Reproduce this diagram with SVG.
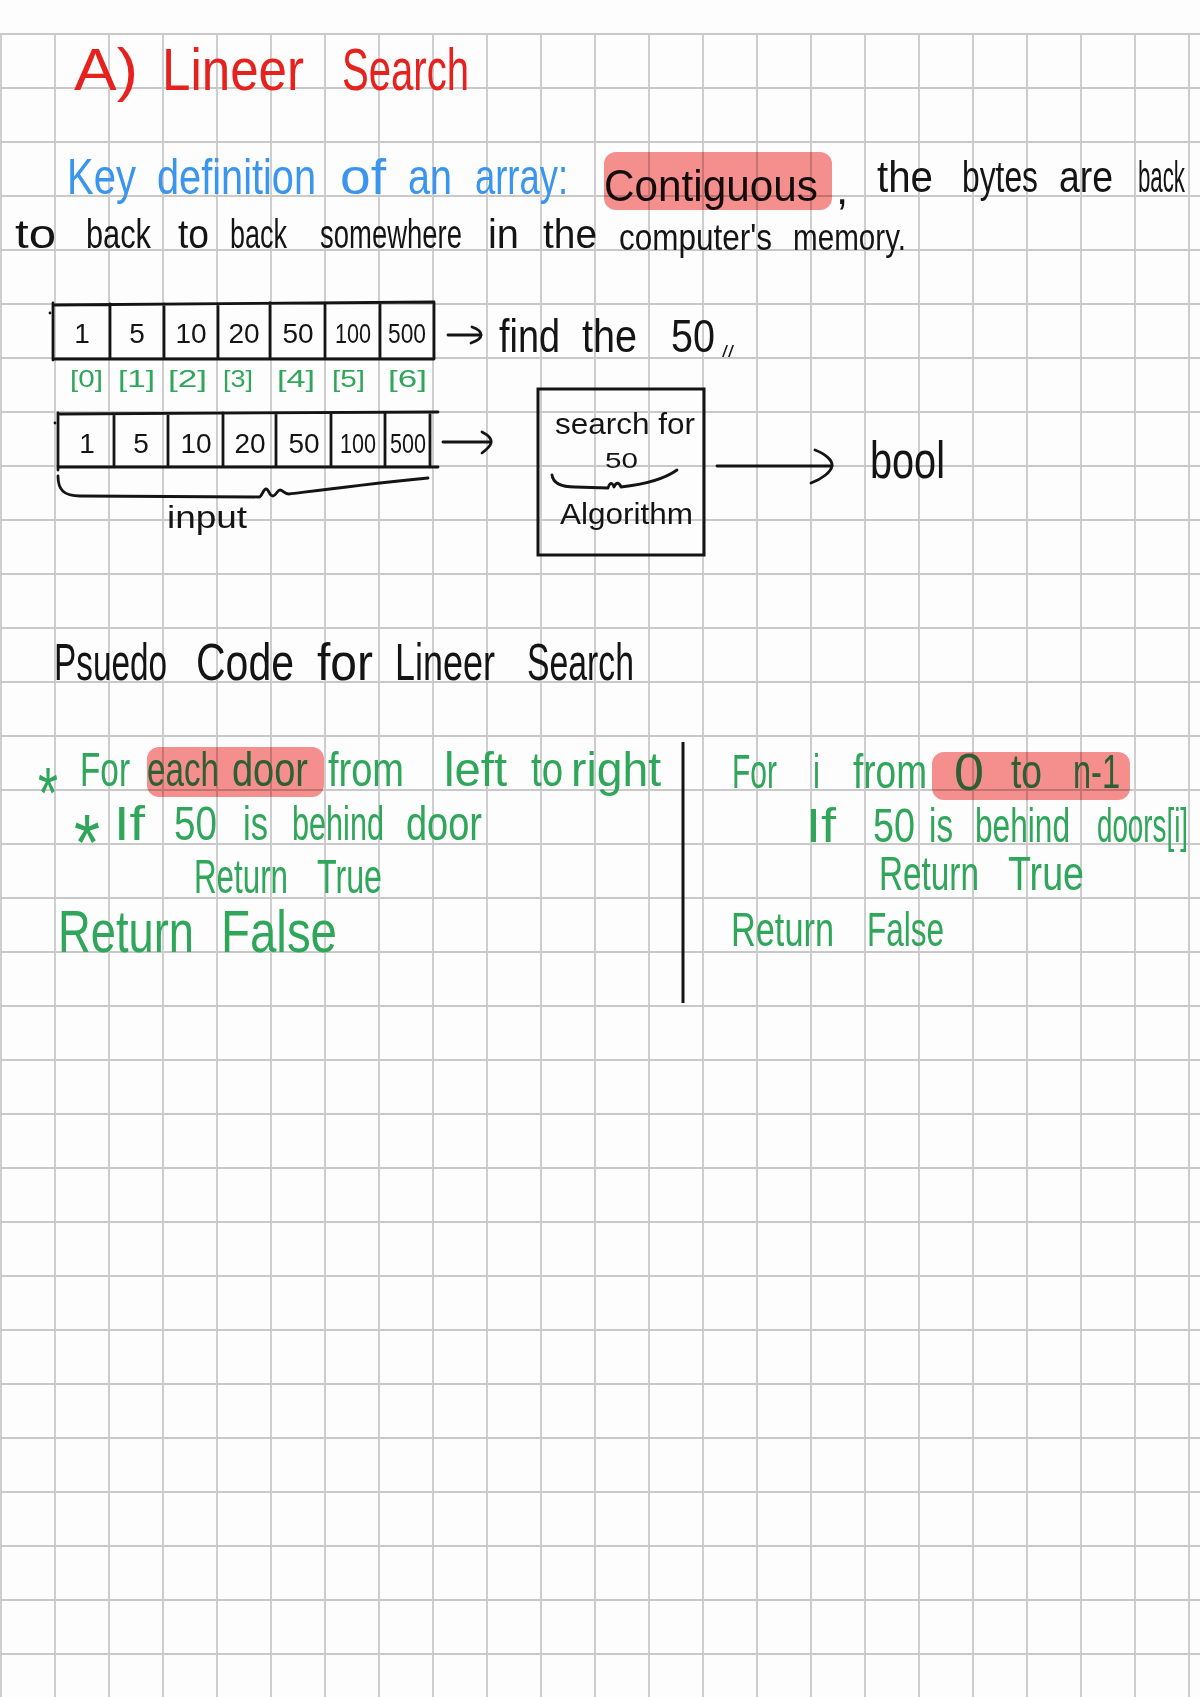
<svg xmlns="http://www.w3.org/2000/svg" width="1200" height="1697" viewBox="0 0 1200 1697">
  <defs>
    <style>
      text{font-family:"Liberation Sans",Arial,sans-serif}
      .red{fill:#e6221e;font-size:60px}
      .blue{fill:#3a95ee;font-size:50px}
      .ink{fill:#141414}
      .grn{fill:#2fa65a}
      .hl{fill:#f6908f;mix-blend-mode:multiply}
      .pen{fill:none;stroke:#141414;stroke-width:2.8;stroke-linecap:round;stroke-linejoin:round}
      .num{font-size:28px;text-anchor:middle}
      .idx{font-size:24px}
      .code{font-size:48px}
    </style>
    <pattern id="paper" patternUnits="userSpaceOnUse" x="-26" y="7" width="54" height="54">
      <path d="M0,27 H54 M27,0 V54" stroke="#c9c9c9" stroke-width="1.8" fill="none"/>
    </pattern>
    <marker id="hook-s" markerUnits="userSpaceOnUse" orient="auto" overflow="visible" refX="0" refY="0" markerWidth="1" markerHeight="1">
      <path class="pen" stroke-width="2.4" d="M-9,-8 C-3,-6 0,-3 0,0 C0,3 -4,6 -10,8"/>
    </marker>
    <marker id="hook-m" markerUnits="userSpaceOnUse" orient="auto" overflow="visible" refX="0" refY="0" markerWidth="1" markerHeight="1">
      <path class="pen" stroke-width="2.6" d="M-9,-10 C-3,-7 1,-3 0,1 C-1,5 -5,8 -9,11"/>
    </marker>
    <marker id="hook-l" markerUnits="userSpaceOnUse" orient="auto" overflow="visible" refX="0" refY="0" markerWidth="1" markerHeight="1">
      <path class="pen" stroke-width="2.8" d="M-17,-16 C-6,-12 1,-5 0,0 C-1,6 -10,13 -21,17"/>
    </marker>
  </defs>

  <!-- paper with square grid -->
  <rect width="1200" height="1697" fill="#fdfdfd"/>
  <rect x="0" y="33" width="1200" height="1664" fill="url(#paper)"/>

  <!-- heading -->
  <g id="title" class="red">
    <text x="74" y="90" textLength="64" lengthAdjust="spacingAndGlyphs">A)</text>
    <text x="162" y="90" textLength="142" lengthAdjust="spacingAndGlyphs">Lineer</text>
    <text x="342" y="90" textLength="127" lengthAdjust="spacingAndGlyphs">Search</text>
  </g>

  <!-- definition sentence -->
  <g id="definition">
    <g class="blue">
      <text x="67" y="194" textLength="69" lengthAdjust="spacingAndGlyphs">Key</text>
      <text x="157" y="194" textLength="159" lengthAdjust="spacingAndGlyphs">definition</text>
      <text x="340" y="194" textLength="46" lengthAdjust="spacingAndGlyphs">of</text>
      <text x="408" y="194" textLength="44" lengthAdjust="spacingAndGlyphs">an</text>
      <text x="475" y="194" textLength="93" lengthAdjust="spacingAndGlyphs">array:</text>
    </g>
    <g class="ink">
      <text x="604" y="201" font-size="44" textLength="214" lengthAdjust="spacingAndGlyphs">Contiguous</text>
      <text x="836" y="204" font-size="44">,</text>
      <g font-size="44">
        <text x="877" y="192" textLength="56" lengthAdjust="spacingAndGlyphs">the</text>
        <text x="962" y="192" textLength="76" lengthAdjust="spacingAndGlyphs">bytes</text>
        <text x="1059" y="192" textLength="54" lengthAdjust="spacingAndGlyphs">are</text>
        <text x="1138" y="192" textLength="47" lengthAdjust="spacingAndGlyphs">back</text>
      </g>
      <g font-size="40">
        <text x="15" y="248" textLength="41" lengthAdjust="spacingAndGlyphs">to</text>
        <text x="86" y="248" textLength="65" lengthAdjust="spacingAndGlyphs">back</text>
        <text x="178" y="248" textLength="31" lengthAdjust="spacingAndGlyphs">to</text>
        <text x="230" y="248" textLength="57" lengthAdjust="spacingAndGlyphs">back</text>
        <text x="320" y="248" textLength="142" lengthAdjust="spacingAndGlyphs">somewhere</text>
        <text x="488" y="248" textLength="31" lengthAdjust="spacingAndGlyphs">in</text>
        <text x="543" y="248" textLength="54" lengthAdjust="spacingAndGlyphs">the</text>
      </g>
      <g font-size="36">
        <text x="619" y="250" textLength="153" lengthAdjust="spacingAndGlyphs">computer's</text>
        <text x="793" y="250" textLength="113" lengthAdjust="spacingAndGlyphs">memory.</text>
      </g>
    </g>
    <rect class="hl" x="604" y="152" width="228" height="58" rx="12"/>
  </g>

  <!-- array with its values -->
  <g id="array-1">
    <path class="pen" d="M53,305 L434,302 M53,359 H434 M53,303 V360 M434,302 V359 M110,304 V359 M164,304 V359 M218,304 V359 M270,303 V359 M325,303 V359 M380,303 V359"/>
    <circle cx="50" cy="313" r="1.4" fill="#141414"/>
    <g class="ink num">
      <text x="82" y="343">1</text>
      <text x="137" y="343">5</text>
      <text x="191" y="343">10</text>
      <text x="244" y="343">20</text>
      <text x="298" y="343">50</text>
      <text x="353" y="343" textLength="36" lengthAdjust="spacingAndGlyphs">100</text>
      <text x="407" y="343" textLength="38" lengthAdjust="spacingAndGlyphs">500</text>
    </g>
  </g>

  <!-- index labels -->
  <g id="indices" class="grn idx">
    <text x="70" y="387" textLength="33" lengthAdjust="spacingAndGlyphs">[0]</text>
    <text x="118" y="387" textLength="37" lengthAdjust="spacingAndGlyphs">[1]</text>
    <text x="168" y="387" textLength="39" lengthAdjust="spacingAndGlyphs">[2]</text>
    <text x="223" y="387" textLength="30" lengthAdjust="spacingAndGlyphs">[3]</text>
    <text x="277" y="387" textLength="38" lengthAdjust="spacingAndGlyphs">[4]</text>
    <text x="332" y="387" textLength="33" lengthAdjust="spacingAndGlyphs">[5]</text>
    <text x="388" y="387" textLength="39" lengthAdjust="spacingAndGlyphs">[6]</text>
  </g>

  <!-- task label -->
  <g id="find-label" class="ink" font-size="46">
    <text x="499" y="352" textLength="61" lengthAdjust="spacingAndGlyphs">find</text>
    <text x="582" y="352" textLength="55" lengthAdjust="spacingAndGlyphs">the</text>
    <text x="671" y="352" textLength="44" lengthAdjust="spacingAndGlyphs">50</text>
    <text x="722" y="357" font-size="16" textLength="12" lengthAdjust="spacingAndGlyphs">//</text>
  </g>

  <!-- input array -->
  <g id="array-2">
    <path class="pen" d="M60,414 L438,412 M58,467 H438 M58,413 V470 M430,413 V467 M114,414 V467 M168,414 V467 M223,413 V467 M276,413 V467 M331,413 V467 M385,413 V467"/>
    <circle cx="55" cy="423" r="1.4" fill="#141414"/>
    <g class="ink num">
      <text x="87" y="453">1</text>
      <text x="141" y="453">5</text>
      <text x="196" y="453">10</text>
      <text x="250" y="453">20</text>
      <text x="304" y="453">50</text>
      <text x="358" y="453" textLength="36" lengthAdjust="spacingAndGlyphs">100</text>
      <text x="408" y="453" textLength="36" lengthAdjust="spacingAndGlyphs">500</text>
    </g>
  </g>

  <!-- brace labelled input -->
  <g id="input-brace">
    <path class="pen" d="M58,476 C58,490 64,496 80,496 L259,497 C262,497 263,489 266,489 C269,489 269,496 273,496 C276,496 277,490 280,490 C283,490 284,494 289,494 C300,493 330,488 428,478"/>
    <text class="ink" x="167" y="528" font-size="32" textLength="80" lengthAdjust="spacingAndGlyphs">input</text>
  </g>

  <!-- algorithm box -->
  <g id="search-box">
    <rect x="538" y="389" width="166" height="166" fill="none" stroke="#141414" stroke-width="3"/>
    <text class="ink" x="555" y="434" font-size="30" textLength="140" lengthAdjust="spacingAndGlyphs">search for</text>
    <text class="ink" x="605" y="468" font-size="22" textLength="33" lengthAdjust="spacingAndGlyphs">50</text>
    <path class="pen" stroke-width="2.4" d="M552,475 C553,483 560,487 575,487 L608,488 C610,482 612,482 614,487 C616,482 619,482 621,487 C630,486 660,482 677,470"/>
    <text class="ink" x="560" y="524" font-size="30" textLength="133" lengthAdjust="spacingAndGlyphs">Algorithm</text>
  </g>

  <!-- result -->
  <g id="bool-node">
    <text class="ink" x="870" y="478" font-size="52" textLength="75" lengthAdjust="spacingAndGlyphs">bool</text>
  </g>

  <!-- arrows -->
  <g id="connectors">
    <path class="pen" stroke-width="2.4" d="M448,335 H481" marker-end="url(#hook-s)"/>
    <path class="pen" stroke-width="2.6" d="M443,442 H491" marker-end="url(#hook-m)"/>
    <path class="pen" d="M717,466 H832" marker-end="url(#hook-l)"/>
  </g>

  <!-- pseudo code heading -->
  <g id="pseudo-title" class="ink" font-size="52">
    <text x="54" y="680" textLength="113" lengthAdjust="spacingAndGlyphs">Psuedo</text>
    <text x="196" y="680" textLength="98" lengthAdjust="spacingAndGlyphs">Code</text>
    <text x="317" y="680" textLength="56" lengthAdjust="spacingAndGlyphs">for</text>
    <text x="395" y="680" textLength="100" lengthAdjust="spacingAndGlyphs">Lineer</text>
    <text x="527" y="680" textLength="107" lengthAdjust="spacingAndGlyphs">Search</text>
  </g>

  <!-- plain-language version -->
  <g id="pseudo-left" class="grn code">
    <text x="38" y="818" font-size="72" textLength="20" lengthAdjust="spacingAndGlyphs">*</text>
    <text x="80" y="786" textLength="50" lengthAdjust="spacingAndGlyphs">For</text>
    <text x="147" y="786" textLength="72" lengthAdjust="spacingAndGlyphs">each</text>
    <text x="232" y="786" textLength="76" lengthAdjust="spacingAndGlyphs">door</text>
    <text x="328" y="786" textLength="76" lengthAdjust="spacingAndGlyphs">from</text>
    <text x="444" y="786" textLength="63" lengthAdjust="spacingAndGlyphs">left</text>
    <text x="531" y="786" textLength="32" lengthAdjust="spacingAndGlyphs">to</text>
    <text x="571" y="786" textLength="90" lengthAdjust="spacingAndGlyphs">right</text>

    <text x="74" y="870" font-size="80" textLength="26" lengthAdjust="spacingAndGlyphs">*</text>
    <text x="114" y="840" textLength="31" lengthAdjust="spacingAndGlyphs">If</text>
    <text x="174" y="840" textLength="43" lengthAdjust="spacingAndGlyphs">50</text>
    <text x="243" y="840" textLength="25" lengthAdjust="spacingAndGlyphs">is</text>
    <text x="292" y="840" textLength="92" lengthAdjust="spacingAndGlyphs">behind</text>
    <text x="406" y="840" textLength="76" lengthAdjust="spacingAndGlyphs">door</text>

    <text x="194" y="893" textLength="94" lengthAdjust="spacingAndGlyphs">Return</text>
    <text x="317" y="893" textLength="65" lengthAdjust="spacingAndGlyphs">True</text>

    <text x="58" y="952" font-size="60" textLength="136" lengthAdjust="spacingAndGlyphs">Return</text>
    <text x="221" y="952" font-size="60" textLength="116" lengthAdjust="spacingAndGlyphs">False</text>
    <rect class="hl" x="147" y="747" width="177" height="50" rx="12"/>
  </g>

  <!-- column divider -->
  <g id="divider">
    <path d="M683,742 V1003" stroke="#141414" stroke-width="3" fill="none"/>
  </g>

  <!-- index-based version -->
  <g id="pseudo-right" class="grn code">
    <text x="732" y="788" textLength="45" lengthAdjust="spacingAndGlyphs">For</text>
    <text x="813" y="788" textLength="7" lengthAdjust="spacingAndGlyphs">i</text>
    <text x="853" y="788" textLength="74" lengthAdjust="spacingAndGlyphs">from</text>
    <text x="954" y="790" font-size="52" textLength="30" lengthAdjust="spacingAndGlyphs">0</text>
    <text x="1011" y="788" textLength="31" lengthAdjust="spacingAndGlyphs">to</text>
    <text x="1073" y="788" textLength="47" lengthAdjust="spacingAndGlyphs">n-1</text>

    <text x="806" y="842" textLength="30" lengthAdjust="spacingAndGlyphs">If</text>
    <text x="873" y="842" textLength="42" lengthAdjust="spacingAndGlyphs">50</text>
    <text x="929" y="842" textLength="24" lengthAdjust="spacingAndGlyphs">is</text>
    <text x="975" y="842" textLength="95" lengthAdjust="spacingAndGlyphs">behind</text>
    <text x="1097" y="842" textLength="91" lengthAdjust="spacingAndGlyphs">doors[i]</text>

    <text x="879" y="890" textLength="100" lengthAdjust="spacingAndGlyphs">Return</text>
    <text x="1008" y="890" textLength="76" lengthAdjust="spacingAndGlyphs">True</text>

    <text x="731" y="946" textLength="103" lengthAdjust="spacingAndGlyphs">Return</text>
    <text x="867" y="946" textLength="77" lengthAdjust="spacingAndGlyphs">False</text>
    <rect class="hl" x="932" y="752" width="198" height="48" rx="12"/>
  </g>
</svg>
